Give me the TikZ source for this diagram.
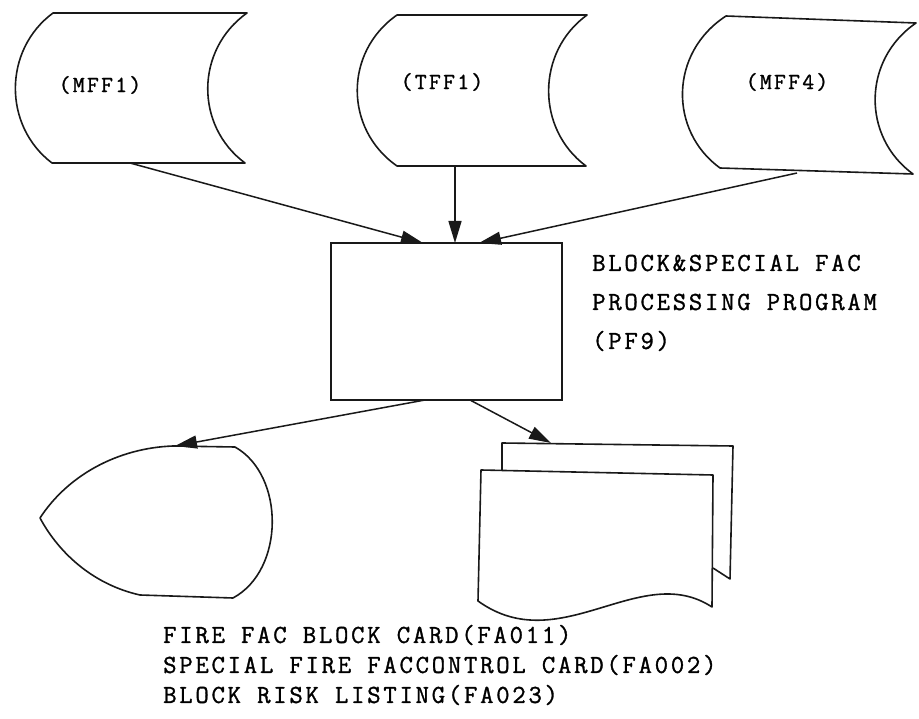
\documentclass[tikz,border=0pt]{standalone}
\usepackage{fontspec}
\newfontfamily\twA{Latin Modern Mono}[LetterSpace=10.5,FakeBold=1.2]
\newfontfamily\twB{Latin Modern Mono}[LetterSpace=10,FakeBold=1.2]
\usetikzlibrary{arrows.meta}
\begin{document}
\begin{tikzpicture}[x=1pt,y=-1pt,
  shapeline/.style={draw=black!90,line width=1.6pt,line join=round},
  conn/.style={draw=black!90,line width=1.5pt,-{Triangle[length=22pt,width=13pt]}},
  lbl/.style={font=\twB\fontsize{23}{27}\selectfont,inner sep=0pt},
  txt/.style={font=\twA\fontsize{26}{30}\selectfont,inner sep=0pt,anchor=west},
  procbox/.style={draw=black!90,line width=1.6pt,minimum width=231pt,minimum height=157pt,inner sep=0pt}]
\useasboundingbox (0,0) rectangle (919,719);
% storage MFF1
\draw[shapeline] (53,13) -- (247,13) .. controls (195,50) and (195,126) .. (245,163)
  -- (52,163) .. controls (3,126) and (3,50) .. cycle;
\node[lbl] (mff1) at (100,85) {(MFF1)};
% storage TFF1
\draw[shapeline] (397,15) -- (587,15) .. controls (536,52) and (536,129) .. (586,166)
  -- (397,166) .. controls (344,129) and (344,52) .. cycle;
\node[lbl] (tff1) at (442,82) {(TFF1)};
% storage MFF4
\draw[shapeline] (726,16) -- (916,23) .. controls (862,60) and (862,137) .. (913,174)
  -- (720,168) .. controls (669,131) and (669,53) .. cycle;
\node[lbl] (mff4) at (787,82) {(MFF4)};
% process box
\node[procbox] (box) at (446.5,321.5) {};
\node[txt] (pl1) at (592,263) {BLOCK\&SPECIAL FAC};
\node[txt] (pl2) at (592,302) {PROCESSING PROGRAM};
\node[txt] (pl3) at (592,341) {(PF9)};
% connector end points
\coordinate (o1) at (130,163);
\coordinate (o2) at (455,166);
\coordinate (o3) at (797,173);
\coordinate (i1) at (423,243);
\coordinate (i2) at (455,243);
\coordinate (i3) at (479,243);
\coordinate (b1) at (425,400);
\coordinate (b2) at (470,400);
\coordinate (d1) at (175,446);
\coordinate (p1) at (551,443);
\draw[conn] (o1) -- (i1);
\draw[conn] (o2) -- (i2);
\draw[conn] (o3) -- (i3);
\draw[conn] (b1) -- (d1);
\draw[conn] (b2) -- (p1);
% display shape
\draw[shapeline] (173,446) -- (235,447) .. controls (285,475) and (285,570) .. (233,598)
  -- (140,595) .. controls (95,585) and (60,555) .. (40,518)
  .. controls (68,475) and (118,448) .. cycle;
% multi-document
\draw[shapeline] (502,470) -- (502,443) -- (733,446) -- (730,579) -- (713,568);
\draw[shapeline,fill=white] (481,470) -- (713,475) -- (712,607)
  .. controls (640,560) and (560,660) .. (478,601) -- cycle;
% bottom text
\node[txt] (t1) at (163,635) {FIRE FAC BLOCK CARD(FA011)};
\node[txt] (t2) at (163,665) {SPECIAL FIRE FACCONTROL CARD(FA002)};
\node[txt] (t3) at (163,695) {BLOCK RISK LISTING(FA023)};
\end{tikzpicture}
\end{document}
